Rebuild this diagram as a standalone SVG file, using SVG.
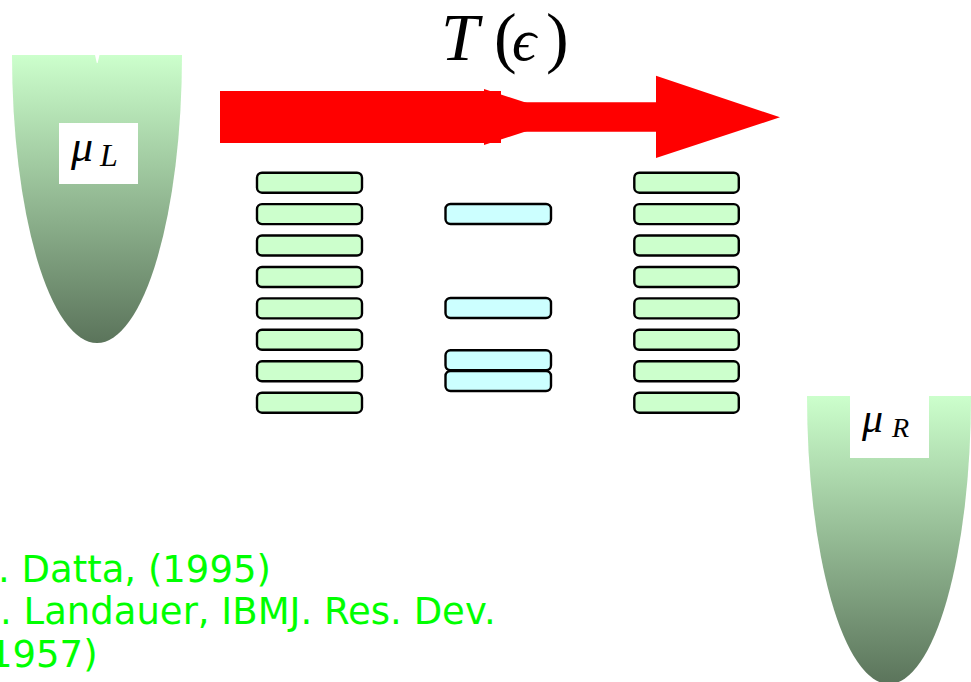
<svg xmlns="http://www.w3.org/2000/svg" width="971" height="682" viewBox="0 0 971 682">
  <defs>
    <linearGradient id="bowlFill" x1="0" y1="0" x2="0" y2="1">
      <stop offset="0" stop-color="#ccffcc"/>
      <stop offset="1" stop-color="#5b745b"/>
    </linearGradient>
  </defs>
  <style>
    .lvl { stroke: #000; stroke-width: 2.4; }
    .lead { fill: #ccffcc; }
    .mol { fill: #ccffff; }
    .bowl { fill: url(#bowlFill); }
    .lbl { fill: #fff; }
    .math { font-family: "Liberation Serif", "DejaVu Serif", serif; fill: #000; }
    .it { font-style: italic; }
    .ref { font-family: "DejaVu Sans", sans-serif; font-size: 37px; fill: #00ff00; }
    .flow { fill: #ff0000; }
  </style>

  <rect width="971" height="682" fill="#fff"/>

  <!-- left reservoir -->
  <g id="reservoir-left">
    <path class="bowl" d="M12,55 L182,55 A85,288 0 0 1 12,55 Z"/>
    <path fill="#fff" d="M95,55 L99.5,55 L97.6,63 L96.8,63 Z"/>
    <rect class="lbl" x="59" y="123" width="79" height="61"/>
    <text class="math it" x="71" y="161" font-size="44">μ</text>
    <text class="math it" x="100" y="166" font-size="32">L</text>
  </g>

  <!-- right reservoir -->
  <g id="reservoir-right">
    <path class="bowl" d="M807,396 L971,396 A82,288 0 0 1 807,396 Z"/>
    <rect class="lbl" x="850" y="396" width="79" height="62"/>
    <text class="math it" x="862" y="432" font-size="42">μ</text>
    <text class="math it" x="892" y="437" font-size="28">R</text>
  </g>

  <!-- left lead levels -->
  <g id="levels-left" class="lvl lead">
    <rect x="257" y="172.7" width="105" height="20" rx="5"/>
    <rect x="257" y="204.1" width="105" height="20" rx="5"/>
    <rect x="257" y="235.5" width="105" height="20" rx="5"/>
    <rect x="257" y="267" width="105" height="20" rx="5"/>
    <rect x="257" y="298.4" width="105" height="20" rx="5"/>
    <rect x="257" y="329.8" width="105" height="20" rx="5"/>
    <rect x="257" y="361.3" width="105" height="20" rx="5"/>
    <rect x="257" y="392.7" width="105" height="20" rx="5"/>
  </g>

  <!-- molecule levels -->
  <g id="levels-molecule" class="lvl mol">
    <rect x="445.5" y="204" width="105.5" height="20" rx="5"/>
    <rect x="445.5" y="298" width="105.5" height="20" rx="5"/>
    <rect x="445.5" y="350.3" width="105.5" height="20" rx="5"/>
    <rect x="445.5" y="371" width="105.5" height="20" rx="5"/>
  </g>

  <!-- right lead levels -->
  <g id="levels-right" class="lvl lead">
    <rect x="634.3" y="172.7" width="104.5" height="20" rx="5"/>
    <rect x="634.3" y="204.1" width="104.5" height="20" rx="5"/>
    <rect x="634.3" y="235.5" width="104.5" height="20" rx="5"/>
    <rect x="634.3" y="267" width="104.5" height="20" rx="5"/>
    <rect x="634.3" y="298.4" width="104.5" height="20" rx="5"/>
    <rect x="634.3" y="329.8" width="104.5" height="20" rx="5"/>
    <rect x="634.3" y="361.3" width="104.5" height="20" rx="5"/>
    <rect x="634.3" y="392.7" width="104.5" height="20" rx="5"/>
  </g>

  <!-- transmission arrows -->
  <g id="connectors">
    <polygon class="flow" points="490,102.3 656,102.3 656,75.7 780,117.3 656,158 656,131.7 490,131.7"/>
    <rect class="flow" x="220" y="91" width="281" height="52"/>
    <polygon class="flow" points="484,89 570,117 484,145"/>
  </g>

  <!-- transmission label -->
  <g id="label-transmission">
    <text class="math" y="60" font-size="68"><tspan class="it" x="441">T</tspan><tspan x="494">(</tspan><tspan class="it" x="512" font-size="60">ϵ</tspan><tspan x="546">)</tspan></text>
  </g>

  <!-- references -->
  <g id="references">
    <text class="ref" x="-2" y="582">. Datta, (1995)</text>
    <text class="ref" x="0" y="624">. Landauer, IBMJ. Res. Dev.</text>
    <text class="ref" x="-11" y="667">1957)</text>
  </g>
</svg>
